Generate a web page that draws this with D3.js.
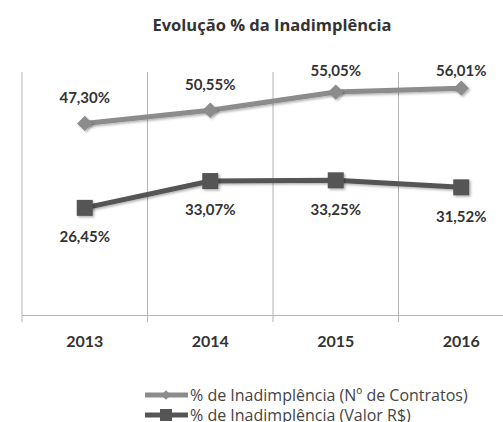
<!DOCTYPE html>
<html><head><meta charset="utf-8">
<script src="https://cdn.jsdelivr.net/npm/d3@7"></script>
<style>
html,body{margin:0;padding:0;background:#fff;}
svg{display:block;font-family:Lato,"Open Sans",sans-serif;}
</style></head>
<body>
<script>
const title = "Evolução % da Inadimplência";
const years = ["2013","2014","2015","2016"];
const contratos = [47.30, 50.55, 55.05, 56.01];
const valor = [26.45, 33.07, 33.25, 31.52];
const seriesNames = ["% de Inadimplência (Nº de Contratos)", "% de Inadimplência (Valor R$)"];

const W = 503, H = 422;
const svg = d3.select("body").append("svg").attr("width", W).attr("height", H);

const defs = svg.append("defs");
const f = defs.append("filter").attr("id","sh").attr("x","-50%").attr("y","-50%").attr("width","200%").attr("height","200%");
f.append("feDropShadow").attr("dx",1.5).attr("dy",1.5).attr("stdDeviation",1.2).attr("flood-color","#000").attr("flood-opacity",0.3);

const x = d3.scaleBand().domain(years).range([22, 524]).padding(0);
const y = d3.scaleLinear().domain([0, 60]).range([315, 72]);
const cx = d => x(d) + x.bandwidth()/2;
const fmt = v => d3.format(".2f")(v).replace(".", ",") + "%";

// title
svg.append("text").attr("x", 272).attr("y", 31).attr("text-anchor","middle")
  .attr("font-family","'Open Sans',sans-serif")
  .attr("font-size", 16.5).attr("font-weight","bold").attr("fill","#333").text(title);

// vertical gridlines at band boundaries
const bounds = years.map(d => x(d)).concat([x(years[years.length-1]) + x.bandwidth()]);
svg.append("g").selectAll("line").data(bounds).join("line")
  .attr("x1", d=>d).attr("x2", d=>d).attr("y1", y(60)).attr("y2", 322)
  .attr("stroke","#b4b4b4").attr("stroke-width",1);

// x axis
const xAxis = d3.axisBottom(x).tickSize(0).tickPadding(0);
const gx = svg.append("g").attr("transform", `translate(0,${y(0)})`).call(xAxis);
gx.select(".domain").attr("stroke","#b4b4b4");
gx.selectAll(".tick text").attr("font-size", 16).attr("font-weight","bold").attr("fill","#333")
  .attr("font-family","Lato,sans-serif").attr("dy", 0).attr("y", 32);

const line = d3.line().x((d,i)=>cx(years[i])).y(d=>y(d));

const c1 = "#8c8c8c", c2 = "#555555";

// series 1
svg.append("path").datum(contratos).attr("d", line).attr("fill","none")
  .attr("stroke", c1).attr("stroke-width", 5).attr("filter","url(#sh)");
svg.append("g").selectAll("path").data(contratos).join("path")
  .attr("d", d3.symbol().type(d3.symbolDiamond2).size(150))
  .attr("transform",(d,i)=>`translate(${cx(years[i])},${y(d)})`)
  .attr("fill", c1).attr("filter","url(#sh)");

// series 2
svg.append("path").datum(valor).attr("d", line).attr("fill","none")
  .attr("stroke", c2).attr("stroke-width", 5).attr("filter","url(#sh)");
svg.append("g").selectAll("rect").data(valor).join("rect")
  .attr("x",(d,i)=>cx(years[i])-8).attr("y", d=>y(d)-8).attr("width",16).attr("height",16)
  .attr("fill", c2).attr("filter","url(#sh)");

// labels
svg.append("g").selectAll("text").data(contratos).join("text")
  .attr("x",(d,i)=>cx(years[i])).attr("y", d=>Math.max(y(d)-26, 71)).attr("dy","0.35em")
  .attr("text-anchor","middle").attr("font-size",15).attr("font-weight","bold").attr("fill","#333")
  .text(fmt);
svg.append("g").selectAll("text").data(valor).join("text")
  .attr("x",(d,i)=>cx(years[i])).attr("y", d=>y(d)+29).attr("dy","0.35em")
  .attr("text-anchor","middle").attr("font-size",15).attr("font-weight","bold").attr("fill","#333")
  .text(fmt);

// legend
const lg = svg.append("g");
seriesNames.forEach((name, i) => {
  const ly = 395 + i*20;
  const col = i === 0 ? c1 : c2;
  lg.append("line").attr("x1",145).attr("x2",188).attr("y1",ly).attr("y2",ly)
    .attr("stroke",col).attr("stroke-width",5);
  if (i === 0) {
    lg.append("path").attr("d", d3.symbol().type(d3.symbolDiamond2).size(60)).attr("transform",`translate(166,${ly})`).attr("fill",col);
  } else {
    lg.append("rect").attr("x",160).attr("y",ly-6).attr("width",12).attr("height",12).attr("fill",col);
  }
  lg.append("text").attr("x",190).attr("y",ly).attr("dy","0.35em")
    .attr("font-family","'Open Sans',sans-serif")
    .attr("font-size",16).attr("fill","#444").text(name);
});
</script>
</body></html>
